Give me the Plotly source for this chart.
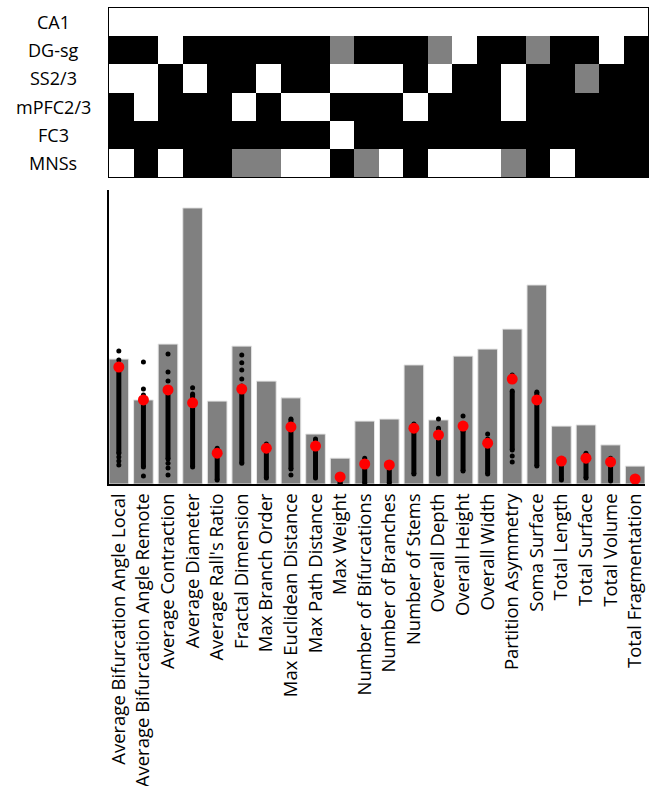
import plotly.graph_objects as go

W, H = 651, 786

# ---------------- data ----------------
features = [
    "Average Bifurcation Angle Local", "Average Bifurcation Angle Remote",
    "Average Contraction", "Average Diameter", "Average Rall's Ratio",
    "Fractal Dimension", "Max Branch Order", "Max Euclidean Distance",
    "Max Path Distance", "Max Weight", "Number of Bifurcations",
    "Number of Branches", "Number of Stems", "Overall Depth", "Overall Height",
    "Overall Width", "Partition Asymmetry", "Soma Surface", "Total Length",
    "Total Surface", "Total Volume", "Total Fragmentation",
]

regions = ["CA1", "DG-sg", "SS2/3", "mPFC2/3", "FC3", "MNSs"]

# 0 = white, 1 = gray, 2 = black
ca1    = [0,0,0,0,0,0,0,0,0,0,0,0,0,0,0,0,0,0,0,0,0,0]
dg_sg  = [2,2,0,2,2,2,2,2,2,1,2,2,2,1,0,2,2,1,2,2,0,2]
ss23   = [0,0,2,0,2,2,0,2,2,0,0,0,2,0,2,2,0,2,2,1,2,2]
mpfc23 = [2,0,2,2,2,0,2,0,0,2,2,2,0,2,2,2,0,2,2,2,2,2]
fc3    = [2,2,2,2,2,2,2,2,2,0,2,2,2,2,2,2,2,2,2,2,2,2]
mnss   = [0,2,0,2,2,1,1,0,0,2,1,0,2,0,0,0,1,2,0,2,2,2]

bar_values = [42.5, 28.6, 47.6, 93.9, 28.2, 46.9, 35.0, 29.3, 17.0, 8.8, 21.4,
              22.1, 40.5, 21.8, 43.5, 45.9, 52.7, 67.7, 19.7, 20.1, 13.3, 6.1]

mean_values = [39.8, 28.6, 32.0, 27.6, 10.5, 32.3, 12.2, 19.4, 12.9, 2.4, 6.8,
               6.5, 19.0, 16.7, 19.7, 13.9, 35.7, 28.6, 7.8, 8.8, 7.5, 1.7]

# dense run of individual samples (low, high) per feature
dense_low  = [10.5, 5.8, 8.5, 5.8, 1.4, 7.1, 2.0, 5.1, 2.0, 0.0, 0.3,
              0.3, 3.4, 3.4, 4.4, 3.4, 11.6, 6.1, 1.4, 2.0, 1.0, None]
dense_high = [39.8, 30.3, 32.7, 30.6, 12.2, 33.3, 13.6, 22.1, 15.3, 1.0, 7.1,
              6.1, 20.4, 19.0, 18.0, 15.3, 31.6, 31.3, 8.5, 10.5, 8.8, None]

# isolated samples per feature
outliers = [
    [45.2, 42.2, 9.2, 7.8, 6.5],
    [41.5, 32.3, 2.7],
    [44.2, 38.1, 35.0, 7.1, 5.4, 3.1],
    [32.7],
    [],
    [43.9, 41.2, 38.8, 35.7],
    [],
    [3.1],
    [],
    [],
    [8.8],
    [],
    [],
    [22.1],
    [23.1],
    [17.0],
    [37.1, 9.5, 7.5],
    [],
    [],
    [],
    [],
    [],
]

# ---------------- figure ----------------
fig = go.Figure()

z = [ca1, dg_sg, ss23, mpfc23, fc3, mnss]
fig.add_trace(go.Heatmap(
    z=z, x=list(range(len(features))), y=regions,
    colorscale=[[0, "#ffffff"], [0.5, "#808080"], [1, "#000000"]],
    zmin=0, zmax=2, showscale=False, hoverinfo="skip",
    xaxis="x2", yaxis="y2",
))

xi = list(range(len(features)))
fig.add_trace(go.Bar(
    x=xi, y=bar_values, width=0.8,
    marker=dict(color="#808080", line=dict(color="#e6e6e6", width=1)),
    hoverinfo="skip",
))

seg_x, seg_y = [], []
for i, (lo, hi) in enumerate(zip(dense_low, dense_high)):
    if lo is None:
        continue
    seg_x += [i, i, None]
    seg_y += [lo, hi, None]
fig.add_trace(go.Scatter(
    x=seg_x, y=seg_y, mode="lines+markers",
    line=dict(color="black", width=5),
    marker=dict(color="black", size=5),
    hoverinfo="skip",
))

ox, oy = [], []
for i, pts in enumerate(outliers):
    for v in pts:
        ox.append(i)
        oy.append(v)
fig.add_trace(go.Scatter(
    x=ox, y=oy, mode="markers",
    marker=dict(color="black", size=5),
    hoverinfo="skip",
))

fig.add_trace(go.Scatter(
    x=xi, y=mean_values, mode="markers",
    marker=dict(color="#ff0000", size=11),
    hoverinfo="skip",
))

font_family = "Open Sans, DejaVu Sans, sans-serif"

annotations = []
for r in regions:
    annotations.append(dict(
        x=53 / W, xref="paper", y=r, yref="y2", text=r, showarrow=False,
        xanchor="center", yanchor="middle",
        font=dict(family=font_family, size=18, color="black"),
    ))

fig.update_layout(
    width=W, height=H,
    margin=dict(l=0, r=0, t=0, b=0),
    paper_bgcolor="white", plot_bgcolor="white",
    showlegend=False,
    font=dict(family=font_family, color="black"),
    xaxis=dict(
        domain=[109 / W, 645 / W], range=[-0.4, len(features) - 0.6],
        tickmode="array", tickvals=xi, ticktext=features, tickangle=-90,
        tickfont=dict(family=font_family, size=18.5, color="black"),
        showline=True, linecolor="black", linewidth=2,
        ticks="", showgrid=False, zeroline=False, automargin=False,
    ),
    yaxis=dict(
        domain=[1 - 484 / H, 1 - 190 / H], range=[0, 100],
        showline=True, linecolor="black", linewidth=2,
        showticklabels=False, ticks="", showgrid=False, zeroline=False,
        automargin=False,
    ),
    xaxis2=dict(
        domain=[109 / W, 648 / W], range=[-0.5, len(features) - 0.5],
        anchor="y2", showticklabels=False, ticks="", showgrid=False,
        zeroline=False, showline=True, mirror=True, linecolor="black",
        linewidth=1,
    ),
    yaxis2=dict(
        domain=[1 - 177 / H, 1 - 8 / H], anchor="x2", autorange="reversed",
        showticklabels=False, ticks="", showgrid=False, zeroline=False,
        showline=True, mirror=True, linecolor="black", linewidth=1,
    ),
    annotations=annotations,
)

fig.write_html(
    "out.html",
    config={"displayModeBar": False},
    post_script="document.body.style.margin='0';document.body.style.overflow='hidden';",
)
